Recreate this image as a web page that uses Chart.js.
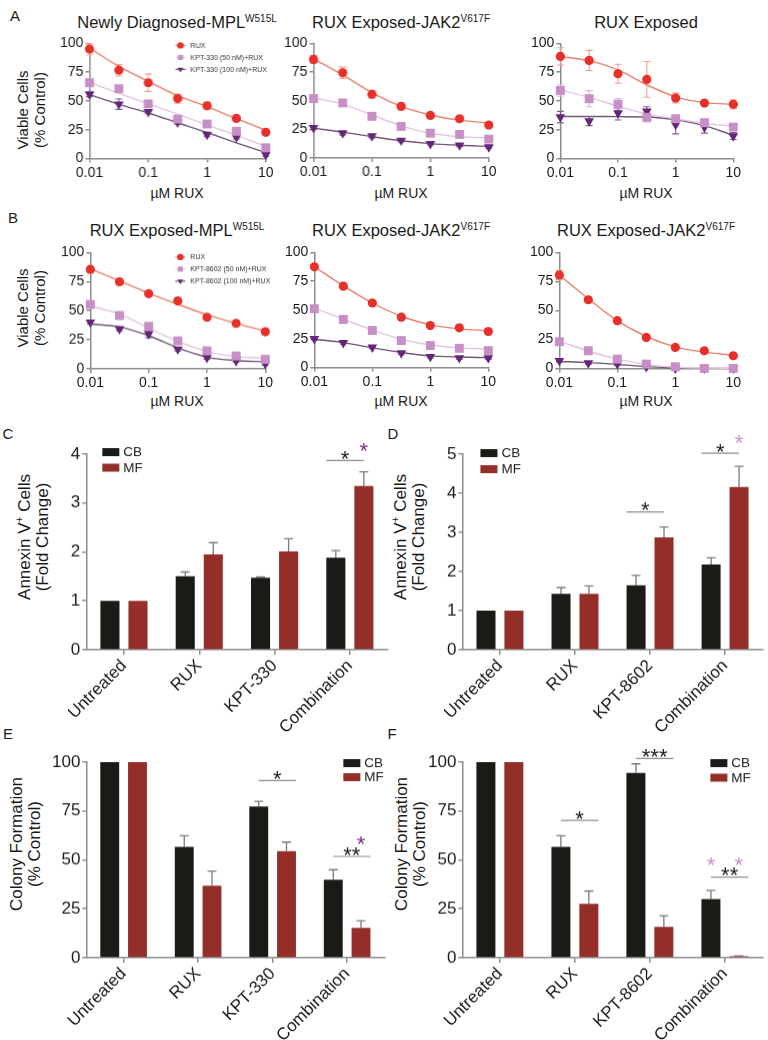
<!DOCTYPE html>
<html>
<head>
<meta charset="utf-8">
<script src="https://cdn.jsdelivr.net/npm/chart.js@4.4.0/dist/chart.umd.min.js"></script>
<style>
  body { margin: 0; background: #fff; }
  #fig { position: relative; width: 768px; height: 1040px; overflow: hidden;
         font-family: 'Liberation Sans', Arial, sans-serif; color: #1a1a1a; }
  .box { position: absolute; left: 0; top: 0; }
  .box canvas { display: block; }
  .t { position: absolute; white-space: nowrap; text-align: center; transform: translate(-50%, -50%); }
  .rot { transform: translate(-50%, -50%) rotate(-90deg); }
  .ttl { font-size: 16.5px; }
  .ttl sup { font-size: 10px; vertical-align: 6px; line-height: 0; }
  .ax { font-size: 14px; }
  .yl { font-size: 15px; line-height: 17px; }
  .yb { font-size: 17px; line-height: 18px; }
  .yb sup { font-size: 10px; vertical-align: 7px; line-height: 0; }
  .lt { font-size: 15px; }
</style>
</head>
<body>
<div id="fig">
  <div class="t lt" style="left:15px;top:15px">A</div>
  <div class="t lt" style="left:13px;top:217px">B</div>
  <div class="t lt" style="left:8px;top:433px">C</div>
  <div class="t lt" style="left:393px;top:433px">D</div>
  <div class="t lt" style="left:8px;top:733px">E</div>
  <div class="t lt" style="left:392px;top:733px">F</div>

  <div class="t ttl" style="left:177px;top:22px">Newly Diagnosed-MPL<sup>W515L</sup></div>
  <div class="t ttl" style="left:401px;top:22px">RUX Exposed-JAK2<sup>V617F</sup></div>
  <div class="t ttl" style="left:646px;top:22px">RUX Exposed</div>
  <div class="t ttl" style="left:177px;top:230px">RUX Exposed-MPL<sup>W515L</sup></div>
  <div class="t ttl" style="left:401px;top:230px">RUX Exposed-JAK2<sup>V617F</sup></div>
  <div class="t ttl" style="left:646px;top:230px">RUX Exposed-JAK2<sup>V617F</sup></div>

  <div class="t ax" style="left:177px;top:193px">µM RUX</div>
  <div class="t ax" style="left:401px;top:193px">µM RUX</div>
  <div class="t ax" style="left:646px;top:193px">µM RUX</div>
  <div class="t ax" style="left:177px;top:401px">µM RUX</div>
  <div class="t ax" style="left:401px;top:401px">µM RUX</div>
  <div class="t ax" style="left:646px;top:401px">µM RUX</div>

  <div class="t rot yl" style="left:31px;top:110px">Viable Cells<br>(% Control)</div>
  <div class="t rot yl" style="left:31px;top:308px">Viable Cells<br>(% Control)</div>

  <div class="t rot yb" style="left:34px;top:537px">Annexin V<sup>+</sup> Cells<br>(Fold Change)</div>
  <div class="t rot yb" style="left:410px;top:537px">Annexin V<sup>+</sup> Cells<br>(Fold Change)</div>
  <div class="t rot yb" style="left:26px;top:844px">Colony Formation<br>(% Control)</div>
  <div class="t rot yb" style="left:411px;top:844px">Colony Formation<br>(% Control)</div>
</div>

<script>
const FONT = "'Liberation Sans', Arial, sans-serif";
const AXIS = '#8c8c8c';
const INK = '#1a1a1a';

// ---- dose-response panels (A, B) ----
const conc = [0.01, 0.0316, 0.1, 0.316, 1, 3.16, 10];
const concTicks = [0.01, 0.1, 1, 10];
const viabTicks = [0, 25, 50, 75, 100];

const labelsA = ['RUX', 'KPT-330 (50 nM)+RUX', 'KPT-330 (100 nM)+RUX'];
const labelsB = ['RUX', 'KPT-8602 (50 nM)+RUX', 'KPT-8602 (100 nM)+RUX'];

// A1 Newly Diagnosed-MPL W515L
const a1Rux = [95.1, 76.7, 65.8, 52.0, 45.7, 34.8, 22.7];
const a1RuxErr = [5, 5, 7.5, 4, 3, 1.5, 1.5];
const a1RuxFit = [96, 80, 67, 54.5, 45, 34.5, 24.5];
const a1K50 = [65.8, 60.6, 47.4, 34.2, 29.9, 23.6, 9.2];
const a1K50Err = [2, 2, 2.5, 2.5, 1.5, 3, 1.5];
const a1K50Fit = [66, 56.5, 47.5, 38.5, 29, 20, 10.5];
const a1K100 = [55.7, 47.1, 40.5, 31.3, 20.7, 18.4, 3.2];
const a1K100Err = [2, 4.5, 1.5, 1.5, 1.5, 1.5, 1.5];
const a1K100Fit = [55.5, 47, 39.5, 31, 22.5, 13.5, 5];

// A2 RUX Exposed-JAK2 V617F
const a2Rux = [86, 74.3, 55.6, 45, 37.1, 34.2, 28.7];
const a2RuxErr = [3.5, 5, 3.5, 3, 1.5, 1.5, 1.5];
const a2RuxFit = [86.5, 72.5, 57, 45, 37.5, 33, 30.5];
const a2K50 = [51.8, 48, 36.3, 27.5, 21.6, 20.5, 16.4];
const a2K50Err = [1.5, 1.5, 1.5, 1.5, 1.5, 1.5, 1.5];
const a2K50Fit = [52.5, 47, 37.5, 28, 21.5, 18.5, 17.5];
const a2K100 = [26.3, 21.6, 19, 15.2, 12.3, 11.1, 9.4];
const a2K100Err = [1.5, 1.5, 1.5, 1, 1, 1, 1];
const a2K100Fit = [26, 22.5, 18.5, 15, 12.5, 11, 10];

// A3 RUX Exposed
const a3Rux = [88.7, 85.2, 73.6, 68.7, 52.5, 48.1, 47];
const a3RuxErr = [7.5, 8.7, 8.3, 15.5, 4.3, 1.5, 4];
const a3RuxFit = [88.5, 85, 77, 64, 53.5, 48.5, 47];
const a3K50 = [59.1, 51.9, 47, 35.7, 34.5, 31, 27.2];
const a3K50Err = [5, 7, 5, 4, 1.5, 3, 1.5];
const a3K50Fit = [59.5, 53, 45.5, 38.5, 34.5, 30.5, 28];
const a3K100 = [35.9, 32.5, 39.4, 40.9, 29.3, 27, 19.4];
const a3K100Err = [5, 4, 6, 4, 8, 5, 3];
const a3K100Fit = [36.5, 36.5, 36.3, 36, 33.5, 28.5, 20];

// B1 RUX Exposed-MPL W515L
const b1Rux = [85.5, 74.8, 64.6, 58.3, 44.3, 39.1, 31.9];
const b1RuxErr = [2, 1.5, 1.5, 1.5, 1.5, 1.5, 1.5];
const b1RuxFit = [86, 75.5, 65, 55.5, 46.5, 39, 32.5];
const b1K50 = [55.4, 45.8, 36.5, 24, 15.4, 11, 8.1];
const b1K50Err = [3, 1.5, 2, 1.5, 1.5, 1.5, 1.5];
const b1K50Fit = [54, 47, 35, 23.5, 15, 10.5, 9];
const b1K100 = [40, 34.2, 29.9, 16.8, 9.6, 6.7, 4.3];
const b1K100Err = [1.5, 1.5, 3, 1.5, 1.5, 1, 1];
const b1K100Fit = [38.5, 36, 28.5, 18, 10, 7, 6];

// B2 RUX Exposed-JAK2 V617F
const b2Rux = [87.5, 70.6, 56, 43.7, 36.4, 34.4, 31.2];
const b2RuxErr = [1.5, 1.5, 1.5, 1.5, 1.5, 1.5, 1.5];
const b2RuxFit = [87.5, 71, 56, 44.5, 37, 33.5, 32];
const b2K50 = [51, 41.7, 32.1, 23.3, 19, 16.6, 14.6];
const b2K50Err = [1.5, 1.5, 1.5, 1.5, 1.5, 1.5, 1.5];
const b2K50Fit = [51.5, 42, 32.5, 24.5, 19.5, 17, 16];
const b2K100 = [24.8, 21.3, 17.5, 12.5, 9.3, 8.2, 8.2];
const b2K100Err = [1, 1, 1, 1, 1, 1, 1];
const b2K100Fit = [24.5, 21.5, 17, 13, 10, 9, 8.5];

// B3 RUX Exposed-JAK2 V617F
const b3Rux = [80.5, 59.2, 41.1, 26.7, 18.1, 15.2, 10.9];
const b3RuxErr = [4, 2, 1.5, 1.5, 1, 1, 1];
const b3RuxFit = [80.5, 60, 41, 27.5, 18.5, 14, 11.5];
const b3K50 = [23, 15.2, 8, 3.7, 1.4, 0, 0];
const b3K50Err = [1.5, 1.5, 1, 1, 1, 0, 0];
const b3K50Fit = [23.5, 15, 8, 3.5, 1, 0.3, 0];
const b3K100 = [6.6, 4.6, 3.7, 1.4, 0, 0, 0];
const b3K100Err = [1, 1, 1, 1, 0, 0, 0];
const b3K100Fit = [6, 5, 3.5, 1.5, 0.3, 0, 0];

// ---- bar panels (C-F) ----
const groups = ['CB', 'MF'];
const catsC = ['Untreated', 'RUX', 'KPT-330', 'Combination'];
const catsD = ['Untreated', 'RUX', 'KPT-8602', 'Combination'];

const cCB = [1.0, 1.50, 1.47, 1.88];
const cCBErr = [0, 0.09, 0.02, 0.15];
const cMF = [1.0, 1.95, 2.01, 3.35];
const cMFErr = [0, 0.24, 0.26, 0.29];
const cSigLines = [[3, 3.87, '*']];
const cSigStars = [[3, 1, 4.18]];

const dCB = [1.0, 1.43, 1.65, 2.18];
const dCBErr = [0, 0.16, 0.25, 0.17];
const dMF = [1.0, 1.43, 2.87, 4.16];
const dMFErr = [0, 0.20, 0.27, 0.53];
const dSigLines = [[2, 3.52, '*'], [3, 5.02, '*']];
const dSigStars = [[3, 1, 5.43]];

const eCB = [100, 56.6, 77.3, 39.9];
const eCBErr = [0, 5.8, 2.6, 5.1];
const eMF = [100, 36.8, 54.5, 15.2];
const eMFErr = [0, 7.5, 4.6, 3.7];
const eSigLines = [[2, 90.6, '*'], [3, 51.8, '**']];
const eSigStars = [[3, 1, 60.9]];

const fCB = [100, 56.6, 94.5, 30.0];
const fCBErr = [0, 5.8, 4.6, 4.4];
const fMF = [100, 27.6, 15.7, 0.7];
const fMFErr = [0, 6.5, 5.8, 0.3];
const fSigLines = [[1, 70.2, '*'], [2, 101.9, '***'], [3, 41.2, '**']];
const fSigStars = [[3, 0, 50.1], [3, 1, 50.1]];

// colours
const RUX_PT = '#e8302b', RUX_LN = '#ee8068', RUX_ER = '#f0a090';
const K50_PT = '#c78fc6', K50_LN = '#e4c6e3', K50_ER = '#dcb5db';
const K100_PT = '#65257a', K100_LN = '#6e5872', K100_ER = '#80608a';
const CB_COL = '#1c1a17', MF_COL = '#932e29';
const PURPLE_STAR = '#7b2a83', PINK_STAR = '#c890c8';

Chart.defaults.font.family = FONT;
Chart.defaults.color = INK;

// error bars from dataset.errors (either symmetric or upward only)
const errorBars = {
  id: 'errorBars',
  beforeDatasetsDraw(chart) {
    const ctx = chart.ctx, ys = chart.scales.y;
    chart.data.datasets.forEach((ds, i) => {
      if (!ds.errors) return;
      const meta = chart.getDatasetMeta(i);
      ctx.save();
      ctx.strokeStyle = ds.errColor;
      ctx.lineWidth = ds.errWidth || 1.2;
      meta.data.forEach((el, j) => {
        const e = ds.errors[j];
        if (!e) return;
        const d = ds.data[j];
        const v = typeof d === 'number' ? d : d.y;
        const top = ys.getPixelForValue(v + e);
        const bot = ds.errMode === 'up' ? ys.getPixelForValue(v) : ys.getPixelForValue(v - e);
        const c = ds.capHalf || 4;
        ctx.beginPath();
        ctx.moveTo(el.x, top); ctx.lineTo(el.x, bot);
        ctx.moveTo(el.x - c, top); ctx.lineTo(el.x + c, top);
        if (ds.errMode !== 'up') { ctx.moveTo(el.x - c, bot); ctx.lineTo(el.x + c, bot); }
        ctx.stroke();
      });
      ctx.restore();
    });
  }
};

function marker(ctx, style, x, y, r) {
  ctx.beginPath();
  if (style === 'circle') ctx.arc(x, y, r, 0, Math.PI * 2);
  else if (style === 'rect') ctx.rect(x - r * 0.8, y - r * 0.8, r * 1.6, r * 1.6);
  else { ctx.moveTo(x - r * 0.9, y - r * 0.55); ctx.lineTo(x + r * 0.9, y - r * 0.55); ctx.lineTo(x, y + r); ctx.closePath(); }
  ctx.fill();
}

// legend inside the dose-response plot (first panel of each row)
function curveLegend(dx, dy, gap) {
  return {
    id: 'curveLegend',
    afterDatasetsDraw(chart) {
      const ctx = chart.ctx, a = chart.chartArea;
      ctx.save();
      ctx.font = '7px ' + FONT;
      ctx.textBaseline = 'middle';
      chart.data.datasets.filter(d => !d.isFit).forEach((d, i) => {
        const x = a.left + dx, y = a.top + dy + i * gap;
        ctx.strokeStyle = d.fitColor; ctx.lineWidth = 1.2;
        ctx.beginPath(); ctx.moveTo(x - 5, y); ctx.lineTo(x + 5, y); ctx.stroke();
        ctx.fillStyle = d.backgroundColor;
        marker(ctx, d.pointStyle, x, y, 3.2);
        ctx.fillStyle = '#333';
        ctx.fillText(d.label, x + 10, y + 0.5);
      });
      ctx.restore();
    }
  };
}

// CB / MF legend for bar panels
function boxLegend(dx, dy, gap) {
  return {
    id: 'boxLegend',
    afterDatasetsDraw(chart) {
      const ctx = chart.ctx, a = chart.chartArea;
      ctx.save();
      ctx.font = '13.5px ' + FONT;
      ctx.textBaseline = 'middle';
      chart.data.datasets.forEach((d, i) => {
        const x = a.left + dx, y = a.top + dy + i * gap;
        ctx.fillStyle = d.backgroundColor;
        ctx.fillRect(x, y - 4, 17, 8);
        ctx.fillStyle = INK;
        ctx.fillText(d.label, x + 21, y + 0.5);
      });
      ctx.restore();
    }
  };
}

// significance lines and asterisks
function sigMarks(lines, stars, starColor, span) {
  const size = 22;
  return {
    id: 'sigMarks',
    afterDatasetsDraw(chart) {
      const ctx = chart.ctx, ys = chart.scales.y;
      const cb = chart.getDatasetMeta(0).data, mf = chart.getDatasetMeta(1).data;
      ctx.save();
      ctx.font = size + 'px ' + FONT;
      ctx.textAlign = 'center';
      ctx.textBaseline = 'alphabetic';
      lines.forEach(([cat, y, label]) => {
        const a = cb[cat], b = mf[cat];
        const x0 = span === 'left' ? a.x - a.width / 2 : a.x;
        const x1 = span === 'left' ? b.x : b.x + b.width / 2;
        const py = ys.getPixelForValue(y);
        ctx.strokeStyle = AXIS; ctx.lineWidth = 1.2;
        ctx.beginPath(); ctx.moveTo(x0, py); ctx.lineTo(x1, py); ctx.stroke();
        ctx.fillStyle = INK;
        ctx.fillText(label, (x0 + x1) / 2, py - 7 + 0.58 * size);
      });
      stars.forEach(([cat, which, y]) => {
        const el = (which ? mf : cb)[cat];
        ctx.fillStyle = starColor;
        ctx.fillText('*', el.x, ys.getPixelForValue(y) + 0.58 * size);
      });
      ctx.restore();
    }
  };
}

function axisOpts(size) {
  return {
    border: { display: true, color: AXIS, width: 1.5 },
    grid: { display: true, drawOnChartArea: false, drawTicks: true, tickLength: 4, color: AXIS, lineWidth: 1.5 },
    ticks: { color: INK, font: { family: FONT, size: size }, padding: 2 }
  };
}

function addCanvas(t, extraW, extraH) {
  const wrap = document.createElement('div');
  wrap.className = 'box';
  const cv = document.createElement('canvas');
  cv.width = Math.round(t.right - t.left + extraW);
  cv.height = Math.round(t.bottom - t.top + extraH);
  wrap.appendChild(cv);
  document.getElementById('fig').appendChild(wrap);
  return { wrap, cv };
}

// resize canvas until its chart area has the target size, then move it in place
function fitToTarget(chart, wrap, t) {
  for (let k = 0; k < 4; k++) {
    const a = chart.chartArea;
    const dw = (t.right - t.left) - (a.right - a.left);
    const dh = (t.bottom - t.top) - (a.bottom - a.top);
    if (Math.abs(dw) < 0.3 && Math.abs(dh) < 0.3) break;
    chart.resize(chart.width + dw, chart.height + dh);
  }
  const a = chart.chartArea;
  wrap.style.left = (t.left - a.left) + 'px';
  wrap.style.top = (t.top - a.top) + 'px';
}

function curveChart(t, labels, rux, ruxErr, ruxFit, k50, k50Err, k50Fit, k100, k100Err, k100Fit, legend) {
  const series = [
    { label: labels[0], pts: rux, err: ruxErr, fit: ruxFit, pt: RUX_PT, ln: RUX_LN, er: RUX_ER, style: 'circle', r: 4.6, rot: 0 },
    { label: labels[1], pts: k50, err: k50Err, fit: k50Fit, pt: K50_PT, ln: K50_LN, er: K50_ER, style: 'rect', r: 6.3, rot: 0 },
    { label: labels[2], pts: k100, err: k100Err, fit: k100Fit, pt: K100_PT, ln: K100_LN, er: K100_ER, style: 'triangle', r: 5.6, rot: 180 }
  ];
  const datasets = [];
  series.forEach(s => datasets.push({
    label: s.label + ' fit', isFit: true,
    data: conc.map((x, i) => ({ x, y: s.fit[i] })),
    borderColor: s.ln, borderWidth: 1.4, pointRadius: 0,
    cubicInterpolationMode: 'monotone', fill: false, clip: false, order: 2
  }));
  series.forEach(s => datasets.push({
    label: s.label,
    data: conc.map((x, i) => ({ x, y: s.pts[i] })),
    showLine: false, pointStyle: s.style, pointRotation: s.rot, pointRadius: s.r,
    backgroundColor: s.pt, borderColor: s.pt, pointBorderWidth: 0,
    errors: s.err, errColor: s.er, errWidth: 1.1, capHalf: 3.5, fitColor: s.ln,
    clip: false, order: 1
  }));

  const { wrap, cv } = addCanvas(t, 70, 45);
  const xo = axisOpts(14), yo = axisOpts(14);
  const plugins = [errorBars];
  if (legend) plugins.push(curveLegend(legend[0], legend[1], legend[2]));
  const chart = new Chart(cv, {
    type: 'line',
    data: { datasets },
    options: {
      responsive: false, maintainAspectRatio: false, animation: false, events: [],
      layout: { padding: { top: 10, right: 4, left: 0, bottom: 0 } },
      plugins: { legend: { display: false }, tooltip: { enabled: false } },
      scales: {
        x: {
          type: 'logarithmic', min: 0.01, max: 10,
          afterBuildTicks: s => { s.ticks = concTicks.map(v => ({ value: v })); },
          border: xo.border, grid: xo.grid,
          ticks: Object.assign({}, xo.ticks, { maxRotation: 0, autoSkip: false, callback: v => String(v) })
        },
        y: {
          min: 0, max: 100,
          afterBuildTicks: s => { s.ticks = viabTicks.map(v => ({ value: v })); },
          border: yo.border, grid: yo.grid, ticks: yo.ticks
        }
      }
    },
    plugins
  });
  fitToTarget(chart, wrap, t);
}

function barChart(t, cats, cb, cbErr, mf, mfErr, yMax, yStep, sigLines, sigStars, starColor, span, legend) {
  const { wrap, cv } = addCanvas(t, 70, 130);
  const xo = axisOpts(17), yo = axisOpts(17);
  const common = { categoryPercentage: 0.745, barPercentage: 0.68, borderWidth: 0,
                   errMode: 'up', errColor: '#7a7a7a', errWidth: 1.3, capHalf: 4.5 };
  const chart = new Chart(cv, {
    type: 'bar',
    data: {
      labels: cats,
      datasets: [
        Object.assign({ label: groups[0], data: cb, errors: cbErr, backgroundColor: CB_COL }, common),
        Object.assign({ label: groups[1], data: mf, errors: mfErr, backgroundColor: MF_COL }, common)
      ]
    },
    options: {
      responsive: false, maintainAspectRatio: false, animation: false, events: [],
      layout: { padding: { top: 32, right: 4, left: 0, bottom: 0 } },
      plugins: { legend: { display: false }, tooltip: { enabled: false } },
      scales: {
        x: {
          border: xo.border,
          grid: Object.assign({}, xo.grid, { offset: false, tickLength: 5 }),
          ticks: Object.assign({}, xo.ticks, { minRotation: 45, maxRotation: 45, autoSkip: false, padding: 1 })
        },
        y: {
          min: 0, max: yMax,
          border: yo.border, grid: yo.grid,
          ticks: Object.assign({}, yo.ticks, { stepSize: yStep })
        }
      }
    },
    plugins: [errorBars, sigMarks(sigLines, sigStars, starColor, span), boxLegend(legend[0], legend[1], legend[2])]
  });
  fitToTarget(chart, wrap, t);
}

// row A
curveChart({ left: 89.5, right: 265, top: 43, bottom: 158 }, labelsA,
  a1Rux, a1RuxErr, a1RuxFit, a1K50, a1K50Err, a1K50Fit, a1K100, a1K100Err, a1K100Fit, [90.5, 2, 12]);
curveChart({ left: 313.5, right: 488, top: 43, bottom: 157.5 }, labelsA,
  a2Rux, a2RuxErr, a2RuxFit, a2K50, a2K50Err, a2K50Fit, a2K100, a2K100Err, a2K100Fit, null);
curveChart({ left: 560, right: 733, top: 43, bottom: 158 }, labelsA,
  a3Rux, a3RuxErr, a3RuxFit, a3K50, a3K50Err, a3K50Fit, a3K100, a3K100Err, a3K100Fit, null);

// row B
curveChart({ left: 90, right: 265, top: 252.5, bottom: 368 }, labelsB,
  b1Rux, b1RuxErr, b1RuxFit, b1K50, b1K50Err, b1K50Fit, b1K100, b1K100Err, b1K100Fit, [90, 4.5, 12]);
curveChart({ left: 314, right: 488, top: 252, bottom: 367 }, labelsB,
  b2Rux, b2RuxErr, b2RuxFit, b2K50, b2K50Err, b2K50Fit, b2K100, b2K100Err, b2K100Fit, null);
curveChart({ left: 559, right: 733, top: 252, bottom: 368 }, labelsB,
  b3Rux, b3RuxErr, b3RuxFit, b3K50, b3K50Err, b3K50Fit, b3K100, b3K100Err, b3K100Fit, null);

// C, D: annexin V
barChart({ left: 86, right: 387, top: 454, bottom: 649 }, catsC, cCB, cCBErr, cMF, cMFErr, 4, 1,
  cSigLines, cSigStars, PURPLE_STAR, 'left', [16, -2, 15.5]);
barChart({ left: 462, right: 762, top: 454, bottom: 649 }, catsD, dCB, dCBErr, dMF, dMFErr, 5, 1,
  dSigLines, dSigStars, PINK_STAR, 'left', [18, -1, 16]);

// E, F: colony formation
barChart({ left: 86, right: 384, top: 762, bottom: 957 }, catsC, eCB, eCBErr, eMF, eMFErr, 100, 25,
  eSigLines, eSigStars, PURPLE_STAR, 'right', [257, 1, 14]);
barChart({ left: 462, right: 762, top: 762, bottom: 957 }, catsD, fCB, fCBErr, fMF, fMFErr, 100, 25,
  fSigLines, fSigStars, PINK_STAR, 'right', [248, 1, 14.5]);
</script>
</body>
</html>
